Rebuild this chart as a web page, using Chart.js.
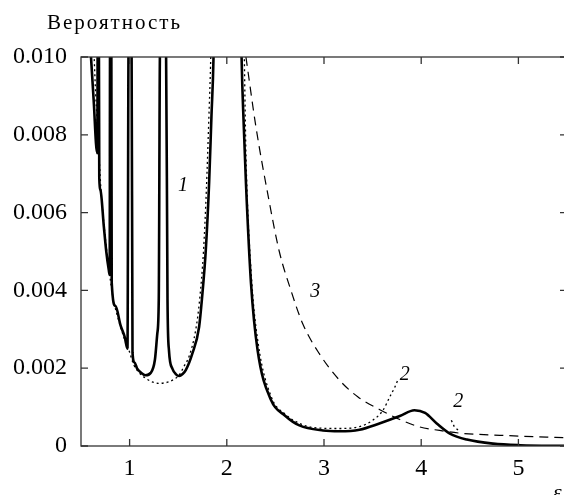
<!DOCTYPE html>
<html>
<head>
<meta charset="utf-8">
<script src="https://cdn.jsdelivr.net/npm/chart.js@4.4.1/dist/chart.umd.min.js"></script>
<style>
  html, body { margin: 0; padding: 0; background: #fff; overflow: hidden; }
  #wrap { position: relative; width: 574px; height: 495px; }
</style>
</head>
<body>
<div id="wrap"><canvas id="probChart"></canvas></div>
<script>
// values: x = ε, y = probability

// curve 1 (solid, thick) with the narrow resonances
const solidX = [0.598, 0.63, 0.666, 0.668, 0.672, 0.684, 0.688, 0.70, 0.735, 0.76, 0.786,
  0.795, 0.799, 0.812, 0.816, 0.855, 0.907, 0.95, 0.978, 0.99, 1.02, 1.03, 1.05, 1.078, 1.12,
  1.165, 1.217, 1.26, 1.285, 1.30, 1.313, 1.375, 1.39, 1.405, 1.44, 1.475, 1.51, 1.545, 1.578,
  1.646, 1.715, 1.745, 1.784, 1.818, 1.842, 1.863, 1.875, 2.14, 2.152, 2.175, 2.197, 2.249,
  2.317, 2.455, 2.6, 2.747, 2.99, 3.16, 3.366, 3.57, 3.78, 3.93, 4.04, 4.16, 4.295, 4.47,
  4.74, 5.02, 5.5];
const solidY = [0.0102, 0.0089, 0.00753, 0.0076, 0.0105, 0.0105, 0.0069, 0.00658, 0.00564, 0.0050, 0.00452,
  0.0044, 0.0105, 0.0105, 0.0042, 0.0036, 0.0031, 0.0028, 0.0025, 0.0105, 0.0105, 0.0024, 0.00215, 0.00199, 0.00188,
  0.00182, 0.00188, 0.00221, 0.00289, 0.00375, 0.0102, 0.0102, 0.00375, 0.00246, 0.00199, 0.00185, 0.0018, 0.00185, 0.00195,
  0.00238, 0.00306, 0.0038, 0.00504, 0.00676, 0.00847, 0.00997, 0.012, 0.012, 0.0100, 0.0082, 0.00676, 0.00418,
  0.00246, 0.00118, 0.00078, 0.00053, 0.0004, 0.00038, 0.00042, 0.00058, 0.00077, 0.00092, 0.00085, 0.00058, 0.00032, 0.000165,
  0.00006, 0.00002, 0.000003];

// curve 2 (dotted), main branch
const dottedX = [0.632, 0.65, 0.683, 0.705, 0.74, 0.79, 0.83, 0.88, 0.94, 0.993, 1.044, 1.10, 1.165,
  1.23, 1.30, 1.35, 1.405, 1.46, 1.51, 1.56, 1.61, 1.68, 1.72, 1.76, 1.79, 1.815, 1.835, 1.85,
  2.16, 2.2, 2.255, 2.325, 2.46, 2.6, 2.75, 2.9, 3.16, 3.366, 3.5, 3.607, 3.676, 3.73, 3.76];
const dottedY = [0.0102, 0.0091, 0.0076, 0.0066, 0.0056, 0.0045, 0.0038, 0.0033, 0.0028, 0.00246, 0.00208, 0.00188, 0.00174,
  0.00165, 0.00161, 0.00162, 0.00165, 0.00172, 0.00182, 0.00205, 0.00229, 0.00298, 0.00375, 0.005, 0.0066, 0.0084, 0.0100, 0.012,
  0.012, 0.0072, 0.0043, 0.0026, 0.00125, 0.00082, 0.00058, 0.00047, 0.00045, 0.0005, 0.00066, 0.00092, 0.00126, 0.00152, 0.0017];

// curve 2 (dotted), short branch near ε = 4.35
const dotted2X = [4.31, 4.34, 4.40];
const dotted2Y = [0.00066, 0.0005, 0.00036];

// curve 3 (dashed)
const dashedX = [2.197, 2.30, 2.435, 2.54, 2.66, 2.78, 2.95, 3.16, 3.35, 3.57, 3.78, 3.985, 4.19, 4.40, 4.81, 5.5];
const dashedY = [0.0100, 0.0082, 0.0063, 0.0050, 0.0040, 0.00315, 0.00238, 0.00169, 0.00126, 0.00094, 0.00068, 0.00049, 0.0004, 0.00033, 0.000275, 0.00021];

const xTicks = [1, 2, 3, 4, 5];
const yTicks = [0, 0.002, 0.004, 0.006, 0.008, 0.010];
const yTickLabels = ['0', '0.002', '0.004', '0.006', '0.008', '0.010'];

// curve numbers, placed in data units
const curveLabels = [
  { text: '1', x: 1.55, y: 0.00669 },
  { text: '3', x: 2.91, y: 0.00396 },
  { text: '2', x: 3.83, y: 0.00182 },
  { text: '2', x: 4.38, y: 0.00115 }
];

function pts(xs, ys) {
  return xs.map((x, i) => ({ x: x, y: ys[i] }));
}

const serif = '"Liberation Serif", "DejaVu Serif", serif';
Chart.defaults.font.family = serif;
Chart.defaults.color = '#000';

// frame with inward ticks on all four sides, plus the text labels
const frameTicks = {
  id: 'frameTicks',
  afterDatasetsDraw(chart) {
    const { ctx, chartArea: a, scales } = chart;
    const len = 7;
    ctx.save();
    ctx.strokeStyle = '#333';
    ctx.lineWidth = 1.3;
    ctx.strokeRect(a.left, a.top, a.right - a.left, a.bottom - a.top);
    ctx.beginPath();
    xTicks.forEach(v => {
      const px = scales.x.getPixelForValue(v);
      ctx.moveTo(px, a.bottom); ctx.lineTo(px, a.bottom - len);
      ctx.moveTo(px, a.top); ctx.lineTo(px, a.top + len);
    });
    yTicks.forEach(v => {
      const py = scales.y.getPixelForValue(v);
      ctx.moveTo(a.left, py); ctx.lineTo(a.left + len, py);
      ctx.moveTo(a.right, py); ctx.lineTo(a.right - len, py);
    });
    ctx.stroke();

    ctx.fillStyle = '#000';
    ctx.font = 'italic 20px ' + serif;
    ctx.textAlign = 'center';
    ctx.textBaseline = 'middle';
    curveLabels.forEach(l => {
      ctx.fillText(l.text, scales.x.getPixelForValue(l.x), scales.y.getPixelForValue(l.y));
    });

    // axis titles
    ctx.textAlign = 'left';
    ctx.textBaseline = 'alphabetic';
    ctx.font = '21px ' + serif;
    ctx.letterSpacing = '2px';
    ctx.fillText('Вероятность', 47, 29);
    ctx.letterSpacing = '0px';
    ctx.font = 'italic 22px ' + serif;
    ctx.fillText('ε', 553, 499);
    ctx.restore();
  }
};

new Chart(document.getElementById('probChart'), {
  type: 'line',
  data: {
    datasets: [
      {
        label: '1',
        data: pts(solidX, solidY),
        borderColor: '#000',
        borderWidth: 2.6,
        pointRadius: 0,
        cubicInterpolationMode: 'monotone',
        clip: 0
      },
      {
        label: '2',
        data: pts(dottedX, dottedY),
        borderColor: '#000',
        borderWidth: 1.3,
        borderDash: [2, 3],
        pointRadius: 0,
        cubicInterpolationMode: 'monotone',
        clip: 0
      },
      {
        label: '2b',
        data: pts(dotted2X, dotted2Y),
        borderColor: '#000',
        borderWidth: 1.3,
        borderDash: [2, 3],
        pointRadius: 0,
        clip: 0
      },
      {
        label: '3',
        data: pts(dashedX, dashedY),
        borderColor: '#000',
        borderWidth: 1.2,
        borderDash: [9, 6],
        pointRadius: 0,
        cubicInterpolationMode: 'monotone',
        clip: 0
      }
    ]
  },
  options: {
    responsive: true,
    maintainAspectRatio: false,
    animation: false,
    layout: { padding: { top: 57, right: 7, left: 0, bottom: 0 } },
    plugins: {
      legend: { display: false },
      tooltip: { enabled: false }
    },
    scales: {
      x: {
        type: 'linear',
        min: 0.5,
        max: 5.5,
        afterBuildTicks: s => { s.ticks = xTicks.map(v => ({ value: v })); },
        afterFit: s => { s.height = 49; },
        grid: { display: false, drawTicks: false },
        border: { display: false },
        ticks: { padding: 8, color: '#000', font: { size: 24 }, maxRotation: 0 }
      },
      y: {
        type: 'linear',
        min: 0,
        max: 0.010,
        afterBuildTicks: s => { s.ticks = yTicks.map(v => ({ value: v })); },
        afterFit: s => { s.width = 81; },
        grid: { display: false, drawTicks: false },
        border: { display: false },
        ticks: {
          padding: 14,
          color: '#000',
          font: { size: 24 },
          callback: (v, i) => yTickLabels[i]
        }
      }
    }
  },
  plugins: [frameTicks]
});
</script>
</body>
</html>
